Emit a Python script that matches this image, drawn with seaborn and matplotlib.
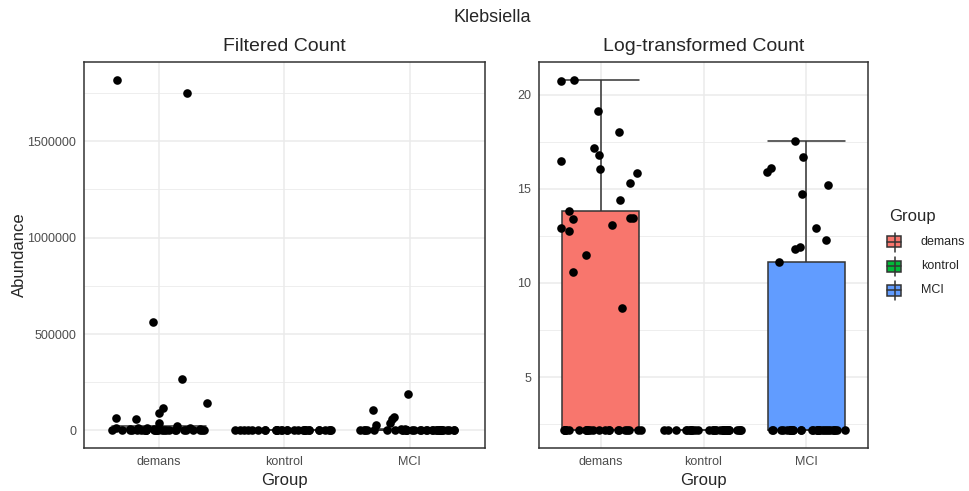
import numpy as np
import pandas as pd
import seaborn as sns
import matplotlib
matplotlib.use("Agg")
import matplotlib.pyplot as plt
from matplotlib.patches import Rectangle
from matplotlib.lines import Line2D

# ---- data -------------------------------------------------------------
groups = ["demans", "kontrol", "MCI"]
palette = {"demans": "#F8766D", "kontrol": "#00BA38", "MCI": "#619CFF"}

# filtered read counts per sample (non-zero samples, then number of zeros)
demans_nonzero = [1820000, 1750000, 563000, 265000, 144000, 114000, 91000,
                  67000, 59000, 40000, 21600, 14300, 11200, 11000, 10800,
                  8600, 7800, 6900, 2900, 1530, 410]
demans_zeros = 24
kontrol_nonzero = []
kontrol_zeros = 30
mci_nonzero = [189000, 106000, 70000, 61000, 37600, 26600, 7800, 5000,
               3800, 3500, 2200]
mci_zeros = 30

pseudo_count = 4.5   # added before log2 so empty samples stay finite

counts = {
    "demans": demans_nonzero + [0] * demans_zeros,
    "kontrol": kontrol_nonzero + [0] * kontrol_zeros,
    "MCI": mci_nonzero + [0] * mci_zeros,
}
rows = [(g, c) for g in groups for c in counts[g]]
df = pd.DataFrame(rows, columns=["Group", "Abundance"])
df["LogAbundance"] = np.log2(df["Abundance"] + pseudo_count)

# ---- style ------------------------------------------------------------
sns.set_style("white")
plt.rcParams["font.family"] = ["Liberation Sans", "DejaVu Sans"]

fig = plt.figure(figsize=(9.7, 4.91), dpi=100)
W, H = 970, 491
def fx(x):
    return x / W
def fy(y):
    return 1 - y / H
def axes_at(x0, y0, x1, y1):
    return fig.add_axes([fx(x0), fy(y1), (x1 - x0) / W, (y1 - y0) / H])

ax1 = axes_at(84, 62, 485, 448)
ax2 = axes_at(539, 62, 868, 448)

grid_col = "#EBEBEB"
edge_col = "#333333"

def style_axes(ax, major, minor, ylim):
    ax.set_xlim(-0.6, 2.6)
    ax.set_ylim(*ylim)
    ax.set_yticks(major)
    ax.set_yticks(minor, minor=True)
    for y in major:
        ax.axhline(y, color=grid_col, lw=1.1, zorder=0)
    for y in minor:
        ax.axhline(y, color=grid_col, lw=0.6, zorder=0)
    for x in range(3):
        ax.axvline(x, color=grid_col, lw=1.1, zorder=0)
    for s in ax.spines.values():
        s.set_color(edge_col)
        s.set_linewidth(1.1)
        s.set_visible(True)
    ax.tick_params(axis="both", which="major", length=3.5, width=0.9,
                   color=edge_col, labelsize=9, labelcolor="#4D4D4D", pad=2)
    ax.tick_params(axis="y", which="minor", length=0)
    ax.set_xticks(range(3))
    ax.set_xticklabels(groups)

box_kw = dict(width=0.75, showfliers=False, linewidth=1.1, linecolor=edge_col,
              whis=1.5, saturation=1, capwidths=0.75)
strip_kw = dict(color="black", size=6.2, jitter=0.4, linewidth=0, zorder=5)

# left: raw filtered counts
np.random.seed(7)
sns.boxplot(data=df, x="Group", y="Abundance", order=groups, ax=ax1,
            color="white", fill=True, **box_kw)
sns.stripplot(data=df, x="Group", y="Abundance", order=groups, ax=ax1,
              **strip_kw)
ymax1 = df["Abundance"].max()
pad1 = 0.05 * ymax1
style_axes(ax1, [0, 500000, 1000000, 1500000],
           [250000, 750000, 1250000, 1750000], (-pad1, ymax1 + pad1))
ax1.set_yticklabels(["0", "500000", "1000000", "1500000"])
ax1.set_title("Filtered Count", fontsize=14, pad=8)
ax1.set_xlabel("Group", fontsize=12, labelpad=4)
ax1.set_ylabel("Abundance", fontsize=12, labelpad=0)

# right: log-transformed counts
np.random.seed(11)
sns.boxplot(data=df, x="Group", y="LogAbundance", order=groups, ax=ax2,
            hue="Group", palette=palette, legend=False, **box_kw)
sns.stripplot(data=df, x="Group", y="LogAbundance", order=groups, ax=ax2,
              **strip_kw)
lo, hi = df["LogAbundance"].min(), df["LogAbundance"].max()
pad2 = 0.05 * (hi - lo)
style_axes(ax2, [5, 10, 15, 20], [2.5, 7.5, 12.5, 17.5],
           (lo - pad2, hi + pad2))
ax2.set_yticklabels(["5", "10", "15", "20"])
ax2.set_title("Log-transformed Count", fontsize=14, pad=8)
ax2.set_xlabel("Group", fontsize=12, labelpad=4)
ax2.set_ylabel("")

fig.text(fx(492), fy(17), "Klebsiella", ha="center", va="center", fontsize=13)

# ---- legend drawn as box-shaped keys ----------------------------------
fig.text(fx(889), fy(216), "Group", ha="left", va="center", fontsize=12)
key_w, key_h, whisk = 14, 11, 4
for i, g in enumerate(groups):
    cy = 242 + 24 * i
    cx = 894.5
    fig.add_artist(Line2D([fx(cx)] * 2, [fy(cy - key_h / 2 - whisk), fy(cy + key_h / 2 + whisk)],
                          color=edge_col, lw=1.1))
    fig.add_artist(Rectangle((fx(cx - key_w / 2), fy(cy + key_h / 2)),
                             key_w / W, key_h / H, facecolor=palette[g],
                             edgecolor=edge_col, lw=1.1))
    fig.add_artist(Line2D([fx(cx - key_w / 2), fx(cx + key_w / 2)], [fy(cy)] * 2,
                          color=edge_col, lw=1.1))
    fig.text(fx(921), fy(cy), g, ha="left", va="center", fontsize=9)

fig.savefig("out.png", dpi=100)
